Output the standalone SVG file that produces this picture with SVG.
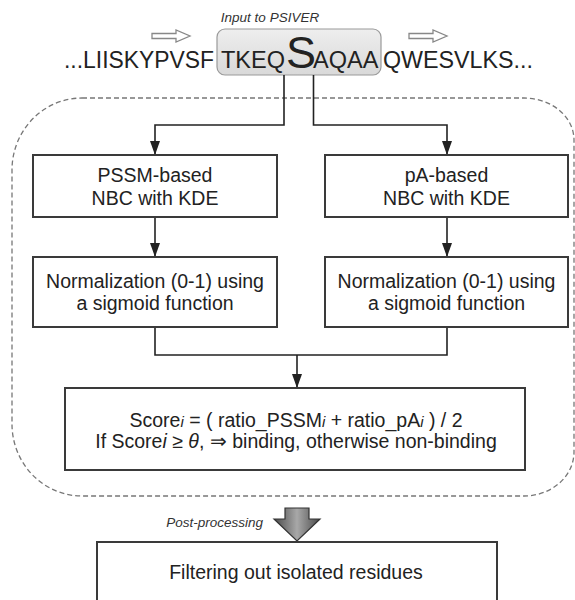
<svg xmlns="http://www.w3.org/2000/svg" width="575" height="600" viewBox="0 0 575 600">
<defs>
<style>
.box{fill:#fff;stroke:#3a3a3a;stroke-width:2}
.t{font-family:"Liberation Sans",Arial,sans-serif;font-size:19.5px;fill:#222;text-anchor:middle}
.seq{font-family:"Liberation Sans",Arial,sans-serif;font-size:23.5px;fill:#222}
.it{font-family:"Liberation Sans",Arial,sans-serif;font-size:13.5px;font-style:italic;fill:#333}
.con{fill:none;stroke:#222;stroke-width:1.6}
.hollow{fill:#fff;stroke:#888;stroke-width:1.3}
</style>
<marker id="ah" viewBox="0 0 14 10" refX="14" refY="5" markerWidth="14" markerHeight="10" markerUnits="userSpaceOnUse" orient="auto">
<path d="M0,0 L14,5 L0,10 z" fill="#222"/>
</marker>
<linearGradient id="hl" x1="0" y1="0" x2="0" y2="1">
<stop offset="0" stop-color="#eeeeee"/>
<stop offset="1" stop-color="#d9d9d9"/>
</linearGradient>
<linearGradient id="pg" x1="0" y1="0" x2="1" y2="0">
<stop offset="0" stop-color="#4a4a4a"/>
<stop offset="0.5" stop-color="#a8a8a8"/>
<stop offset="1" stop-color="#4a4a4a"/>
</linearGradient>
</defs>
<rect width="575" height="600" fill="#fff"/>

<g id="input">
<text class="it" x="270" y="22" text-anchor="middle">Input to PSIVER</text>
<path class="hollow" d="M152,33.5 H176 V30 L190,36 L176,42 V38.5 H152 Z"/>
<path class="hollow" d="M409,33.5 H433 V30 L447,36 L433,42 V38.5 H409 Z"/>
<rect x="217" y="29" width="164" height="46" rx="8" fill="url(#hl)" stroke="#9a9a9a" stroke-width="1.2"/>
<text class="seq" x="64" y="68" textLength="150" lengthAdjust="spacingAndGlyphs">...LIISKYPVSF</text>
<text class="seq" x="221" y="68">TKEQ</text>
<text class="seq" x="286" y="68" style="font-size:45px">S</text>
<text class="seq" x="313" y="68">AQAA</text>
<text class="seq" x="383" y="68" textLength="150" lengthAdjust="spacingAndGlyphs">QWESVLKS...</text>
</g>

<g id="region">
<path d="M82,98 H524 A50,42 0 0 1 574,140 V452 A50,44 0 0 1 524,496 H82 A70,72 0 0 1 12,424 V170 A70,72 0 0 1 82,98 Z" fill="none" stroke="#777" stroke-width="1.3" stroke-dasharray="5,3"/>
</g>

<g id="connectors">
<path class="con" d="M284,75 V125 H155 V155" marker-end="url(#ah)"/>
<path class="con" d="M313.5,75 V125 H447 V155" marker-end="url(#ah)"/>
<path class="con" d="M155,217 V257" marker-end="url(#ah)"/>
<path class="con" d="M447,217 V257" marker-end="url(#ah)"/>
<path class="con" d="M155,327 V355 H447 V327"/>
<path class="con" d="M297,355 V388" marker-end="url(#ah)"/>
</g>

<g id="pssm">
<rect class="box" x="33" y="155" width="244" height="62"/>
<text class="t" x="155" y="182">PSSM-based</text>
<text class="t" x="155" y="205">NBC with KDE</text>
</g>

<g id="pa">
<rect class="box" x="325" y="155" width="243" height="62"/>
<text class="t" x="446.5" y="182">pA-based</text>
<text class="t" x="446.5" y="205">NBC with KDE</text>
</g>

<g id="norm1">
<rect class="box" x="33" y="257" width="244" height="70"/>
<text class="t" x="155" y="288">Normalization (0-1) using</text>
<text class="t" x="155" y="310">a sigmoid function</text>
</g>

<g id="norm2">
<rect class="box" x="325" y="257" width="243" height="70"/>
<text class="t" x="446.5" y="288">Normalization (0-1) using</text>
<text class="t" x="446.5" y="310">a sigmoid function</text>
</g>

<g id="score">
<rect class="box" x="65" y="388" width="460" height="82"/>
<text class="t" x="296" y="427">Score<tspan font-style="italic" font-size="15">i</tspan> = ( ratio_PSSM<tspan font-style="italic" font-size="15">i</tspan> + ratio_pA<tspan font-style="italic" font-size="15">i</tspan> ) / 2</text>
<text class="t" x="296" y="448">If Score<tspan font-style="italic">i</tspan> ≥ <tspan font-style="italic">θ</tspan>, ⇒ binding, otherwise non-binding</text>
</g>

<g id="post">
<path d="M285,508 H309 V519 H320 L297,541 L274,519 H285 Z" fill="url(#pg)" stroke="#333" stroke-width="1.2"/>
<text class="it" x="263" y="527" text-anchor="end">Post-processing</text>
</g>

<g id="filter">
<rect class="box" x="97" y="542" width="400" height="70"/>
<text class="t" x="296" y="579">Filtering out isolated residues</text>
</g>
</svg>
